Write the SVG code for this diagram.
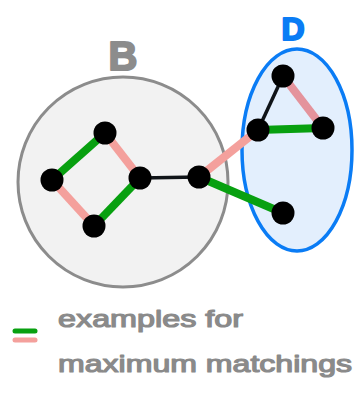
<svg xmlns="http://www.w3.org/2000/svg" width="354" height="398" viewBox="0 0 354 398">
<style>
.e{stroke-linecap:butt;fill:none}
.g{stroke:#08a010;stroke-width:8}
.p{stroke:#f4a09c;stroke-width:8}
.k{stroke:#101418;stroke-width:3.5}
.n{fill:#000}
.lbl{font-family:"Liberation Sans","DejaVu Sans",sans-serif;font-weight:bold;stroke-linejoin:round}
.t{font-family:"Liberation Sans","DejaVu Sans",sans-serif;font-size:24px;fill:#8a8a8a;stroke:#8a8a8a;stroke-width:1.2;stroke-linejoin:round}
</style>
<g id="B">
<circle cx="123" cy="182" r="105" fill="#f2f2f2" stroke="#8c8c8c" stroke-width="3"/>
<text class="lbl" x="123" y="70" font-size="40" text-anchor="middle" fill="#8c8c8c" stroke="#8c8c8c" stroke-width="2">B</text>
</g>
<g id="D">
<ellipse cx="297" cy="150" rx="55" ry="101" fill="#e3effd" stroke="#0a7cf5" stroke-width="3.5"/>
<text class="lbl" x="293" y="40" font-size="32" text-anchor="middle" fill="#0a7cf5" stroke="#0a7cf5" stroke-width="2">D</text>
</g>
<g id="connectors">
<line class="e g" x1="105" y1="133" x2="52" y2="180"/>
<line class="e p" x1="52" y1="180" x2="94" y2="226"/>
<line class="e g" x1="94" y1="226" x2="140" y2="178"/>
<line class="e p" x1="105" y1="133" x2="140" y2="178"/>
<line class="e k" x1="140" y1="178" x2="199" y2="177"/>
<line class="e p" x1="199" y1="177" x2="258" y2="130"/>
<line class="e g" x1="199" y1="177" x2="283" y2="213"/>
<line class="e k" x1="283" y1="76" x2="258" y2="130"/>
<line class="e p" x1="283" y1="76" x2="323" y2="128" style="stroke:#e4939c"/>
<line class="e g" x1="258" y1="130" x2="323" y2="128"/>
</g>
<g id="n1"><circle class="n" cx="105" cy="133" r="11.5"/></g>
<g id="n2"><circle class="n" cx="52" cy="180" r="11.5"/></g>
<g id="n3"><circle class="n" cx="140" cy="178" r="11.5"/></g>
<g id="n4"><circle class="n" cx="94" cy="226" r="11.5"/></g>
<g id="n5"><circle class="n" cx="199" cy="177" r="11.5"/></g>
<g id="n6"><circle class="n" cx="283" cy="76" r="11.5"/></g>
<g id="n7"><circle class="n" cx="258" cy="130" r="11.5"/></g>
<g id="n8"><circle class="n" cx="323" cy="128" r="11.5"/></g>
<g id="n9"><circle class="n" cx="283" cy="213" r="11.5"/></g>
<g id="legend">
<line x1="15" y1="331" x2="35" y2="331" stroke="#08a010" stroke-width="5" stroke-linecap="round"/>
<line x1="15" y1="340" x2="35" y2="340" stroke="#f4a09c" stroke-width="5" stroke-linecap="round"/>
<text class="t" x="58" y="327" textLength="185" lengthAdjust="spacingAndGlyphs">examples for</text>
<text class="t" x="58" y="372" textLength="294" lengthAdjust="spacingAndGlyphs">maximum matchings</text>
</g>
</svg>
